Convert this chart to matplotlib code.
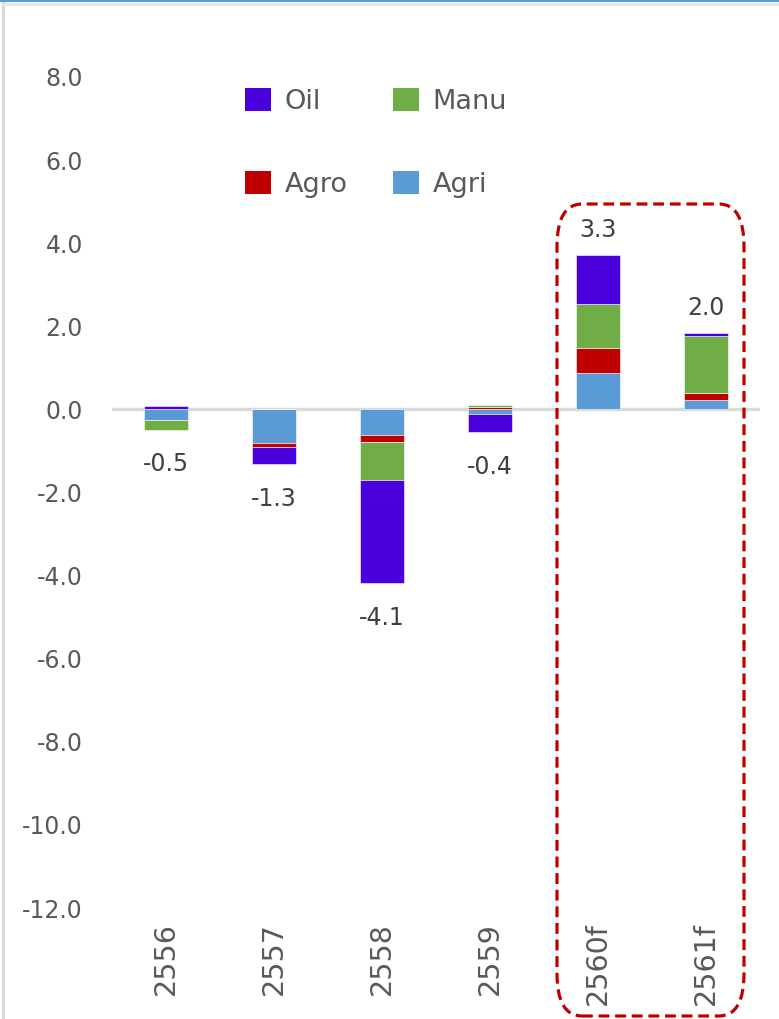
import matplotlib
matplotlib.use("Agg")
import matplotlib.pyplot as plt
from matplotlib.patches import FancyBboxPatch, Patch
from matplotlib.lines import Line2D
import numpy as np

plt.rcParams['font.family'] = ['DejaVu Sans']
plt.rcParams['axes.unicode_minus'] = False

years = ['2556', '2557', '2558', '2559', '2560f', '2561f']
agri = [-0.25, -0.82, -0.61, -0.10, 0.88, 0.22]
agro = [0.00, -0.09, -0.18, 0.05, 0.59, 0.18]
manu = [-0.24, 0.00, -0.91, 0.05, 1.07, 1.36]
oil = [0.07, -0.41, -2.49, -0.45, 1.18, 0.09]
totals = [-0.5, -1.3, -4.1, -0.4, 3.3, 2.0]

series = [('Agri', agri, '#5B9BD5'),
          ('Agro', agro, '#C00000'),
          ('Manu', manu, '#70AD47'),
          ('Oil', oil, '#4A00DC')]

W, H = 779, 1019
fig = plt.figure(figsize=(W / 100, H / 100), dpi=100)
ax = fig.add_axes([112 / W, 1 - 908 / H, (760 - 112) / W, (908 - 77) / H])

x = np.arange(len(years))
pos_base = np.zeros(len(years))
neg_base = np.zeros(len(years))
handles = {}
for name, vals, color in series:
    vals = np.array(vals)
    base = np.where(vals >= 0, pos_base, neg_base)
    ax.bar(x, vals, 0.41, bottom=base, color=color, edgecolor='#ffffff',
           linewidth=0.4, zorder=2)
    pos_base = pos_base + np.clip(vals, 0, None)
    neg_base = neg_base + np.clip(vals, None, 0)
    handles[name] = Patch(facecolor=color, edgecolor='none')

# zero line
ax.axhline(0, color='#D9D9D9', lw=2.4, zorder=1)

# total labels above / below each stack
for i, t in enumerate(totals):
    if t >= 0:
        ax.annotate(f'{t:.1f}', (x[i], pos_base[i]), xytext=(0, 18),
                    textcoords='offset points', ha='center', va='center',
                    fontsize=17, color='#404040')
    else:
        ax.annotate(f'{t:.1f}', (x[i], neg_base[i]), xytext=(0, -25),
                    textcoords='offset points', ha='center', va='center',
                    fontsize=17, color='#404040')

ax.set_xlim(-0.5, len(years) - 0.5)
ax.set_ylim(-12, 8)
ax.set_yticks(np.arange(-12, 8.1, 2))
ax.set_yticklabels([f'{v:.1f}' for v in np.arange(-12, 8.1, 2)])
ax.set_xticks(x)
ax.set_xticklabels(years, rotation=90)
ax.tick_params(axis='y', length=0, pad=21, labelsize=17, labelcolor='#595959')
ax.tick_params(axis='x', length=0, pad=10, labelsize=20.5, labelcolor='#595959')
for s in ax.spines.values():
    s.set_visible(False)

order = ['Oil', 'Agro', 'Manu', 'Agri']
fig.legend([handles[n] for n in order], order, ncol=2, loc='upper left',
           bbox_to_anchor=(245 / W, 1 - 88 / H), frameon=False,
           fontsize=19.5, labelcolor='#595959', borderpad=0, borderaxespad=0,
           handlelength=0.95, handleheight=0.95, handletextpad=0.52,
           columnspacing=1.67, labelspacing=2.05)

# dashed rounded box around the forecast years
box = FancyBboxPatch((557 / W, 1 - 1016 / H), (744 - 557) / W, (1016 - 204) / H,
                     boxstyle='round,pad=0,rounding_size=0.032',
                     transform=fig.transFigure, fill=False, edgecolor='#C00000',
                     lw=2.3, linestyle=(0, (3.4, 1.8)), mutation_aspect=H / W)
fig.patches.append(box)

# window border
fig.add_artist(Line2D([3 / W, 3 / W], [0, 1], color='#D9D9D9', lw=2.2,
                      transform=fig.transFigure))
fig.add_artist(Line2D([0, 1], [1 - 1 / H, 1 - 1 / H], color='#5B9BD5', lw=1.5,
                      transform=fig.transFigure))
fig.add_artist(Line2D([3 / W, 1], [1 - 4 / H, 1 - 4 / H], color='#E6E6E6', lw=2,
                      transform=fig.transFigure))

fig.savefig('out.png', dpi=100)
